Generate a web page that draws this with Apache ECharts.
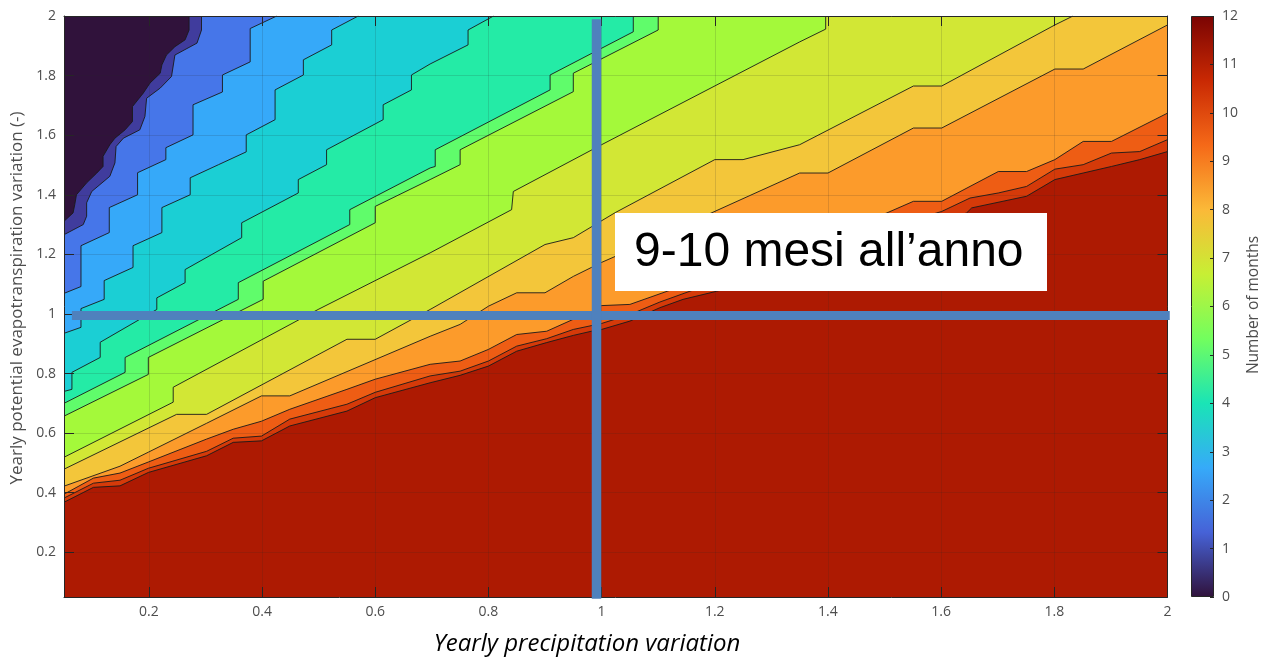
<!DOCTYPE html>
<html><head><meta charset="utf-8">
<script src="https://cdn.jsdelivr.net/npm/echarts@6/dist/echarts.min.js"></script>
<style>html,body{margin:0;padding:0;background:#fff}#c{width:1262px;height:658px}</style>
</head><body><div id="c"></div>
<script>
// ---------- data ----------
const xTicks = [0.2, 0.4, 0.6, 0.8, 1.0, 1.2, 1.4, 1.6, 1.8, 2.0];
const yTicks = [0.2, 0.4, 0.6, 0.8, 1.0, 1.2, 1.4, 1.6, 1.8, 2.0];
const monthTicks = [0, 1, 2, 3, 4, 5, 6, 7, 8, 9, 10, 11, 12];

// contour boundaries [precipitation variation, evapotranspiration variation], from top/right to left
const contour1 = [[0.271,2.0],[0.271,1.953],[0.264,1.920],[0.246,1.897],[0.231,1.869],[0.223,1.836],[0.220,1.808],[0.202,1.775],[0.190,1.741],[0.171,1.696],[0.171,1.646],[0.158,1.618],[0.140,1.590],[0.131,1.568],[0.119,1.529],[0.119,1.495],[0.108,1.473],[0.090,1.440],[0.072,1.400],[0.069,1.367],[0.066,1.339],[0.05,1.311]];
const contour2 = [[0.293,2.0],[0.293,1.953],[0.285,1.909],[0.246,1.869],[0.240,1.797],[0.220,1.758],[0.196,1.724],[0.193,1.663],[0.184,1.618],[0.155,1.590],[0.142,1.562],[0.140,1.507],[0.131,1.462],[0.099,1.411],[0.090,1.373],[0.090,1.328],[0.084,1.300],[0.05,1.266]];
const contour3 = [[0.426,2.0],[0.379,1.958],[0.379,1.846],[0.330,1.802],[0.330,1.745],[0.278,1.702],[0.278,1.601],[0.230,1.558],[0.230,1.518],[0.180,1.474],[0.180,1.400],[0.130,1.357],[0.130,1.273],[0.080,1.229],[0.080,1.092],[0.05,1.069]];
const contour4 = [[0.570,2.0],[0.523,1.953],[0.523,1.903],[0.473,1.853],[0.473,1.802],[0.423,1.752],[0.423,1.652],[0.372,1.601],[0.372,1.544],[0.323,1.501],[0.273,1.457],[0.273,1.400],[0.223,1.357],[0.223,1.273],[0.172,1.229],[0.172,1.156],[0.121,1.112],[0.121,1.049],[0.080,1.018],[0.080,0.955],[0.05,0.935]];
const contour5 = [[0.809,2.0],[0.764,1.953],[0.764,1.903],[0.697,1.839],[0.664,1.802],[0.664,1.752],[0.614,1.702],[0.614,1.652],[0.514,1.551],[0.514,1.501],[0.464,1.451],[0.464,1.406],[0.364,1.306],[0.364,1.256],[0.264,1.149],[0.264,1.105],[0.214,1.054],[0.214,1.015],[0.114,0.905],[0.114,0.854],[0.064,0.804],[0.064,0.747],[0.05,0.740]];
const contour6 = [[1.056,2.0],[1.056,1.947],[0.909,1.802],[0.909,1.752],[0.706,1.551],[0.706,1.495],[0.697,1.490],[0.555,1.350],[0.555,1.300],[0.358,1.105],[0.358,1.049],[0.158,0.854],[0.158,0.804],[0.05,0.700]];
const contour7 = [[1.100,2.0],[1.100,1.953],[0.950,1.808],[0.950,1.746],[0.750,1.551],[0.750,1.501],[0.697,1.451],[0.600,1.361],[0.600,1.306],[0.402,1.110],[0.402,1.049],[0.199,0.854],[0.199,0.797],[0.05,0.657]];
const contour8 = [[1.396,2.0],[1.396,1.956],[1.350,1.913],[1.000,1.568],[0.844,1.411],[0.841,1.350],[0.697,1.205],[0.499,1.015],[0.243,0.754],[0.243,0.704],[0.05,0.519]];
const contour9 = [[1.833,2.0],[1.801,1.970],[1.601,1.765],[1.551,1.765],[1.350,1.568],[1.250,1.518],[1.200,1.518],[1.024,1.340],[0.950,1.256],[0.900,1.233],[0.697,1.015],[0.600,0.915],[0.550,0.915],[0.302,0.663],[0.249,0.663],[0.05,0.479]];
const contour10 = [[2.0,1.970],[1.851,1.822],[1.801,1.822],[1.601,1.624],[1.551,1.624],[1.400,1.473],[1.350,1.473],[1.024,1.193],[1.000,1.173],[0.982,1.156],[0.950,1.126],[0.900,1.071],[0.850,1.071],[0.800,1.026],[0.750,0.965],[0.697,0.925],[0.449,0.725],[0.399,0.725],[0.302,0.633],[0.199,0.536],[0.149,0.489],[0.05,0.422]];
const contour11 = [[2.0,1.674],[1.901,1.579],[1.851,1.579],[1.801,1.518],[1.751,1.478],[1.701,1.478],[1.601,1.378],[1.551,1.378],[1.504,1.339],[1.120,1.079],[1.050,1.032],[1.000,1.028],[0.982,1.004],[0.950,0.982],[0.903,0.942],[0.850,0.931],[0.800,0.881],[0.750,0.842],[0.697,0.831],[0.600,0.781],[0.550,0.747],[0.449,0.680],[0.399,0.640],[0.349,0.613],[0.302,0.580],[0.199,0.503],[0.149,0.466],[0.102,0.449],[0.05,0.395]];
const contour12 = [[2.0,1.585],[1.951,1.545],[1.901,1.540],[1.851,1.501],[1.801,1.486],[1.751,1.428],[1.701,1.406],[1.651,1.389],[1.601,1.344],[1.592,1.339],[1.160,1.079],[1.103,1.040],[1.050,0.998],[1.000,0.968],[0.950,0.948],[0.903,0.917],[0.850,0.892],[0.800,0.842],[0.750,0.808],[0.697,0.792],[0.600,0.737],[0.550,0.697],[0.449,0.647],[0.399,0.590],[0.349,0.583],[0.302,0.539],[0.199,0.482],[0.149,0.442],[0.102,0.432],[0.05,0.382]];
const contour13 = [[2.0,1.545],[1.951,1.518],[1.901,1.495],[1.851,1.473],[1.801,1.451],[1.751,1.395],[1.654,1.356],[1.645,1.339],[1.203,1.076],[1.144,1.049],[1.103,1.021],[1.050,0.976],[1.000,0.948],[0.982,0.942],[0.950,0.928],[0.903,0.904],[0.850,0.875],[0.800,0.825],[0.750,0.794],[0.697,0.769],[0.600,0.719],[0.550,0.674],[0.449,0.624],[0.399,0.574],[0.349,0.569],[0.302,0.524],[0.199,0.468],[0.149,0.423],[0.102,0.418],[0.05,0.368]];

// overlay cross (reference lines) and annotation
const crossX = 0.991;
const crossY = 0.995;
const verticalRefLine = [[crossX, 1.989], [crossX, 0.044]];
const horizontalRefLine = [[0.064, crossY], [2.004, crossY]];
const annotationText = '9-10 mesi all\u2019anno';

// ---------- styles ----------
const bandColors = ['#30123b','#403c9d','#4676e9','#36a9f9','#1bcfd4','#24eba6','#60fc6b','#a4f93a','#d2e735','#f3c63a','#fc9b2b','#ee5d14','#d53a09','#ad1a02'];
const turboStops = ['#30123b','#4662d7','#36aaf9','#1ae4b6','#72fe5e','#c7ef34','#fbb938','#f56918','#c92903','#7a0403'];
const FONT = '"Open Sans", "Noto Sans", sans-serif';

const chart = echarts.init(document.getElementById('c'), null, {renderer: 'canvas'});
const boundaries = [contour1, contour2, contour3, contour4, contour5, contour6, contour7, contour8, contour9, contour10, contour11, contour12, contour13];
const fmt = v => String(Math.round(v * 10) / 10);

const series = [];
boundaries.forEach((b, i) => {
  const first = b[0];
  const areaData = (first[0] < 2 && first[1] >= 2) ? [[2, 2]].concat(b) : b;
  series.push({
    type: 'line', xAxisIndex: 0, yAxisIndex: 0, data: areaData,
    symbol: 'none', silent: true, z: 2,
    lineStyle: {width: 0, opacity: 0},
    areaStyle: {color: bandColors[i + 1], opacity: 1, origin: 'start'}
  });
});
boundaries.forEach(b => {
  series.push({
    type: 'line', xAxisIndex: 0, yAxisIndex: 0, data: b,
    symbol: 'none', silent: true, z: 3,
    lineStyle: {color: '#1a1a1a', width: 0.9}
  });
});
series.push({
  type: 'line', xAxisIndex: 0, yAxisIndex: 0, data: horizontalRefLine, clip: false,
  symbol: 'none', silent: true, z: 20, lineStyle: {color: '#4f81bd', width: 9, cap: 'butt'}
});
series.push({
  type: 'line', xAxisIndex: 0, yAxisIndex: 0, data: verticalRefLine, clip: false,
  symbol: 'none', silent: true, z: 20, lineStyle: {color: '#4f81bd', width: 9.5, cap: 'butt'}
});
// colorbar
series.push({
  type: 'bar', xAxisIndex: 2, yAxisIndex: 2, data: [monthTicks[monthTicks.length - 1]],
  barWidth: '100%', silent: true, z: 2,
  itemStyle: {
    color: new echarts.graphic.LinearGradient(0, 1, 0, 0,
      turboStops.map((c, i) => ({offset: i / (turboStops.length - 1), color: c}))),
    borderColor: '#262626', borderWidth: 1
  }
});

const axisCommon = {
  type: 'value', min: 0.05, max: 2, gridIndex: 0, z: 5,
  axisLine: {show: true, onZero: false, lineStyle: {color: '#262626', width: 1}},
};

chart.setOption({
  animation: false,
  backgroundColor: '#ffffff',
  grid: [
    {left: 64, top: 16, width: 1103.5, height: 581, show: true, backgroundColor: bandColors[0], borderWidth: 0},
    {left: 1191, top: 16, width: 23, height: 581}
  ],
  xAxis: [
    Object.assign({}, axisCommon, {
      position: 'bottom',
      axisTick: {show: true, inside: true, length: 10, customValues: xTicks, lineStyle: {color: '#262626'}},
      axisLabel: {customValues: xTicks, formatter: fmt, color: '#4d4d4d', fontSize: 14, fontFamily: FONT, margin: 8},
      splitLine: {show: true, lineStyle: {color: 'rgba(38,38,38,0.15)', width: 1}}
    }),
    Object.assign({}, axisCommon, {
      position: 'top',
      axisTick: {show: true, inside: true, length: 10, customValues: xTicks, lineStyle: {color: '#262626'}},
      axisLabel: {show: false},
      splitLine: {show: false}
    }),
    {type: 'category', gridIndex: 1, data: ['m'], show: false}
  ],
  yAxis: [
    Object.assign({}, axisCommon, {
      position: 'left',
      axisTick: {show: true, inside: true, length: 10, customValues: yTicks, lineStyle: {color: '#262626'}},
      axisLabel: {customValues: yTicks, formatter: fmt, color: '#4d4d4d', fontSize: 14, fontFamily: FONT, margin: 8},
      splitLine: {show: true, lineStyle: {color: 'rgba(38,38,38,0.15)', width: 1}}
    }),
    Object.assign({}, axisCommon, {
      position: 'right',
      axisTick: {show: true, inside: true, length: 10, customValues: yTicks, lineStyle: {color: '#262626'}},
      axisLabel: {show: false},
      splitLine: {show: false}
    }),
    {
      type: 'value', gridIndex: 1, min: monthTicks[0], max: monthTicks[monthTicks.length - 1], interval: 1,
      position: 'right', z: 5,
      axisLine: {show: false},
      axisTick: {show: true, inside: true, length: 4, lineStyle: {color: '#262626'}},
      axisLabel: {color: '#4d4d4d', fontSize: 14, fontFamily: FONT, margin: 8},
      splitLine: {show: false}
    }
  ],
  series: series,
  graphic: [
    {type: 'rect', z: 100, shape: {x: 615, y: 213, width: 432, height: 78}, style: {fill: '#ffffff'}},
    {type: 'text', z: 101, x: 634, y: 253, style: {text: annotationText, font: '48px "Liberation Sans", Arial, sans-serif', fill: '#000000', align: 'left', verticalAlign: 'middle'}},
    {type: 'text', z: 101, x: 587, y: 644, style: {text: 'Yearly precipitation variation', font: 'italic 24px ' + FONT, fill: '#000000', align: 'center', verticalAlign: 'middle'}},
    {type: 'text', z: 101, x: 17, y: 298, rotation: Math.PI / 2, style: {text: 'Yearly potential evapotranspiration variation (-)', font: '17px ' + FONT, fill: '#4d4d4d', align: 'center', verticalAlign: 'middle'}},
    {type: 'text', z: 101, x: 1254, y: 305, rotation: Math.PI / 2, style: {text: 'Number of months', font: '15.5px ' + FONT, fill: '#4d4d4d', align: 'center', verticalAlign: 'middle'}}
  ]
});
</script>
</body></html>
